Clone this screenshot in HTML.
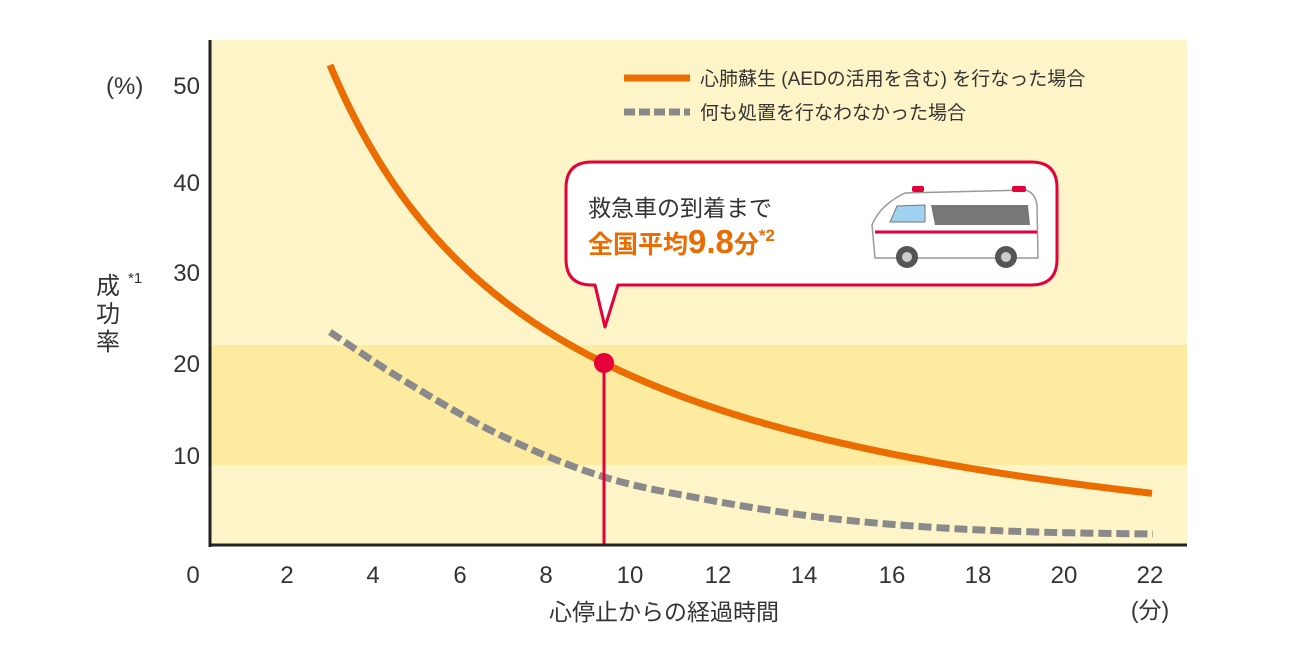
<!DOCTYPE html>
<html><head><meta charset="utf-8"><style>
html,body{margin:0;padding:0;background:#fff;width:1300px;height:650px;overflow:hidden}
svg{display:block}
text{font-family:"Liberation Sans","Noto Sans CJK JP",sans-serif;fill:#333}
</style></head><body>
<svg id="s" width="1300" height="650" viewBox="0 0 1300 650">
<rect x="210" y="40" width="977" height="505" fill="#fdf5c8"/>
<rect x="210" y="345" width="977" height="120" fill="#fdeba0"/>
<g font-size="24" text-anchor="middle">
<text x="193" y="583">0</text><text x="287" y="583">2</text><text x="373" y="583">4</text><text x="460" y="583">6</text><text x="546" y="583">8</text><text x="630" y="583">10</text><text x="718" y="583">12</text><text x="804" y="583">14</text><text x="892" y="583">16</text><text x="978" y="583">18</text><text x="1064" y="583">20</text><text x="1150" y="583">22</text>
</g>
<g font-size="24" text-anchor="end">
<text x="200" y="94">50</text><text x="200" y="191">40</text><text x="200" y="281">30</text><text x="200" y="372">20</text><text x="200" y="464">10</text>
</g>
<text x="106" y="94" font-size="24">(%)</text>
<g font-size="24"><text x="96" y="294">成</text><text x="96" y="322">功</text><text x="96" y="350">率</text></g>
<text x="128" y="283" font-size="15">*1</text>
<text x="664" y="620" font-size="23" text-anchor="middle">心停止からの経過時間</text>
<text x="1150" y="618" font-size="23" text-anchor="middle">(分)</text>
<path id="g" fill="none" stroke="#8a8a8a" stroke-width="7" stroke-dasharray="13,5"/>
<path id="o" fill="none" stroke="#eb6c00" stroke-width="7"/>
<line x1="604" y1="363" x2="604" y2="545" stroke="#e5003a" stroke-width="3"/>
<circle cx="604" cy="363" r="10" fill="#e5003a"/>
<line x1="210" y1="40" x2="210" y2="547" stroke="#222" stroke-width="3"/>
<line x1="209" y1="545" x2="1187" y2="545" stroke="#222" stroke-width="3"/>
<line x1="624" y1="78" x2="690" y2="78" stroke="#eb6c00" stroke-width="7"/>
<line x1="624" y1="112" x2="690" y2="112" stroke="#8a8a8a" stroke-width="7" stroke-dasharray="11,4"/>
<text x="700" y="85" font-size="19">心肺蘇生 (AEDの活用を含む) を行なった場合</text>
<text x="700" y="119" font-size="19">何も処置を行なわなかった場合</text>
<path d="M592,162 H1031 Q1057,162 1057,188 V259 Q1057,285 1031,285 H618 L605,327 L595,285 H592 Q566,285 566,259 V188 Q566,162 592,162 Z" fill="#fff" stroke="#e5003a" stroke-width="3" stroke-linejoin="round"/>
<text x="588" y="216" font-size="23">救急車の到着まで</text>
<text x="588" y="253" font-size="25" font-weight="bold" style="fill:#eb6c00">全国平均<tspan font-size="33">9.8</tspan>分<tspan font-size="17" dy="-12">*2</tspan></text>
<g>
<path d="M872,225 Q880,205 905,193 L1025,190 Q1035,192 1037,205 L1038,258 L875,258 Z" fill="#fff" stroke="#999" stroke-width="1.5"/>
<rect x="912" y="186" width="12" height="6" fill="#e5003a" rx="2"/>
<rect x="1012" y="186" width="14" height="6" fill="#e5003a" rx="2"/>
<path d="M890,222 L897,206 L925,205 L925,222 Z" fill="#9fd3ef" stroke="#777" stroke-width="1"/>
<path d="M931,205 L1028,205 L1030,225 L935,225 Z" fill="#777"/>
<line x1="875" y1="232" x2="1037" y2="232" stroke="#e5003a" stroke-width="3"/>
<circle cx="907" cy="257" r="11" fill="#555"/><circle cx="907" cy="257" r="5" fill="#ccc"/>
<circle cx="1006" cy="257" r="11" fill="#555"/><circle cx="1006" cy="257" r="5" fill="#ccc"/>
</g>
</svg>
<script>
(function(){
  var c=100;
  var b=298/(1/(330-c)-1/(604-c));
  var a=363+b/(604-c);
  var d="";
  for(var x=330;x<=1153;x+=3){var y=a-b/(x-c);d+=(d?"L":"M")+x+","+y.toFixed(1);}
  document.getElementById("o").setAttribute("d",d);
  function cr(P){
    var s="M"+P[0][0]+","+P[0][1];
    for(var i=0;i<P.length-1;i++){
      var p0=P[i>0?i-1:0],p1=P[i],p2=P[i+1],p3=P[i+2<P.length?i+2:i+1];
      s+="C"+(p1[0]+(p2[0]-p0[0])/6).toFixed(1)+","+(p1[1]+(p2[1]-p0[1])/6).toFixed(1)+" "+(p2[0]-(p3[0]-p1[0])/6).toFixed(1)+","+(p2[1]-(p3[1]-p1[1])/6).toFixed(1)+" "+p2[0]+","+p2[1];
    }
    return s;
  }
  document.getElementById("g").setAttribute("d",cr([[330,332],[403,380],[500,435],[604,477],[709,500],[818,517],[927,527],[1036,532],[1153,534]]));
})();
</script>
</body></html>
